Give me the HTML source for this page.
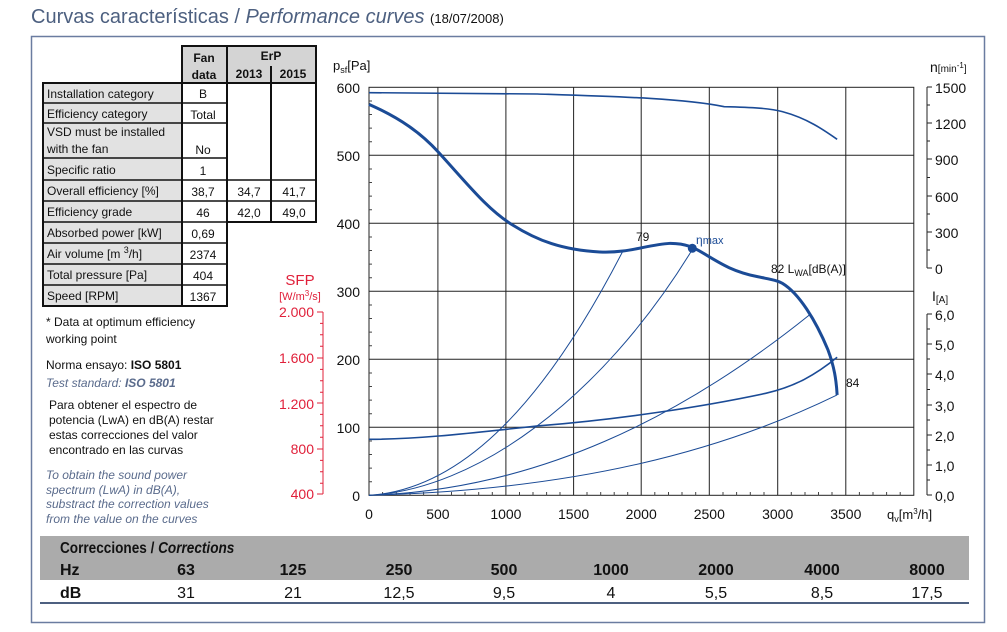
<!DOCTYPE html>
<html><head><meta charset="utf-8"><style>
html,body{margin:0;padding:0;background:#fff;}
svg{display:block;font-family:"Liberation Sans",sans-serif;}
</style></head><body>
<svg width="1007" height="632" viewBox="0 0 1007 632" xmlns="http://www.w3.org/2000/svg">
<rect width="1007" height="632" fill="#fff"/>
<text x="31" y="23" font-size="20" fill="#4d6080">Curvas características / <tspan font-style="italic">Performance curves</tspan> <tspan font-size="13" fill="#111">(18/07/2008)</tspan></text>
<rect x="31.5" y="36.5" width="953" height="586" fill="none" stroke="#6a7ca0" stroke-width="1.5"/>

<!-- left data table -->
<g stroke="#111" stroke-width="2" font-size="12" fill="#111">
<rect x="182" y="46" width="134" height="37" fill="#d4d4d4"/>
<line x1="227" y1="46" x2="227" y2="83"/>
<rect x="43" y="83" width="139" height="223" fill="#e2e2e2"/>
<rect x="182" y="83" width="45" height="223" fill="#fff"/>
<rect x="227" y="83" width="89" height="139" fill="#fff"/>
<line x1="271" y1="66" x2="271" y2="222"/>
<g stroke-width="1.5">
<line x1="43" y1="103" x2="227" y2="103"/><line x1="43" y1="123" x2="227" y2="123"/>
<line x1="43" y1="158" x2="227" y2="158"/><line x1="43" y1="180" x2="316" y2="180"/>
<line x1="43" y1="201" x2="316" y2="201"/><line x1="43" y1="222" x2="316" y2="222"/>
<line x1="43" y1="243" x2="227" y2="243"/><line x1="43" y1="264" x2="227" y2="264"/>
<line x1="43" y1="285" x2="227" y2="285"/>
</g>
</g>
<g font-size="12" fill="#111">
<g font-weight="bold" text-anchor="middle"><text x="204" y="62">Fan</text><text x="204" y="79">data</text><text x="271" y="60">ErP</text><text x="249" y="78">2013</text><text x="293" y="78">2015</text></g>
<text x="47" y="98">Installation category</text>
<text x="47" y="118">Efficiency category</text>
<text x="47" y="136">VSD must be installed</text>
<text x="47" y="153">with the fan</text>
<text x="47" y="174">Specific ratio</text>
<text x="47" y="195">Overall efficiency [%]</text>
<text x="47" y="216">Efficiency grade</text>
<text x="47" y="237">Absorbed power [kW]</text>
<text x="47" y="258">Air volume [m <tspan font-size="9" dy="-5">3</tspan><tspan dy="5">/h]</tspan></text>
<text x="47" y="279">Total pressure [Pa]</text>
<text x="47" y="300">Speed [RPM]</text>
<g text-anchor="middle">
<text x="203" y="98">B</text><text x="203" y="119">Total</text><text x="203" y="154">No</text><text x="203" y="175">1</text>
<text x="203" y="196">38,7</text><text x="249" y="196">34,7</text><text x="294" y="196">41,7</text>
<text x="203" y="217">46</text><text x="249" y="217">42,0</text><text x="294" y="217">49,0</text>
<text x="203" y="238">0,69</text><text x="203" y="259">2374</text><text x="203" y="280">404</text><text x="203" y="301">1367</text>
</g>
<text x="46" y="326">* Data at optimum efficiency</text>
<text x="46" y="343">working point</text>
<text x="46" y="369">Norma ensayo: <tspan font-weight="bold">ISO 5801</tspan></text>
<text x="46" y="387" fill="#5a6b8c" font-style="italic">Test standard: <tspan font-weight="bold">ISO 5801</tspan></text>
<text x="49" y="409">Para obtener el espectro de</text>
<text x="49" y="424">potencia (LwA) en dB(A) restar</text>
<text x="49" y="439">estas correcciones del valor</text>
<text x="49" y="454">encontrado en las curvas</text>
<g fill="#5a6b8c" font-style="italic">
<text x="46" y="479">To obtain the sound power</text>
<text x="46" y="494">spectrum (LwA) in dB(A),</text>
<text x="46" y="508">substract the correction values</text>
<text x="46" y="523">from the value on the curves</text>
</g>
</g>

<!-- SFP axis -->
<g fill="#e0203a" stroke="#e0203a">
<text x="300" y="285" font-size="15" stroke="none" text-anchor="middle">SFP</text>
<text x="300" y="300" font-size="11" stroke="none" text-anchor="middle">[W/m<tspan font-size="8" dy="-4">3</tspan><tspan dy="4">/s]</tspan></text>
<line x1="323" y1="312" x2="323" y2="494"/>
<g stroke-width="1">
<line x1="317" y1="312" x2="323" y2="312"/><line x1="317" y1="358" x2="323" y2="358"/><line x1="317" y1="403" x2="323" y2="403"/><line x1="317" y1="449" x2="323" y2="449"/><line x1="317" y1="494" x2="323" y2="494"/>
<path d="M320,323.4H323M320,334.8H323M320,346.2H323M320,369.4H323M320,380.8H323M320,392.2H323M320,414.4H323M320,425.8H323M320,437.2H323M320,460.4H323M320,471.8H323M320,483.2H323"/>
</g>
<g stroke="none" font-size="14" text-anchor="end">
<text x="314" y="317">2.000</text><text x="314" y="363">1.600</text><text x="314" y="409">1.200</text><text x="314" y="454">800</text><text x="314" y="499">400</text>
</g>
</g>

<!-- grid -->
<g stroke="#222" stroke-width="1">
<rect x="369" y="87.3" width="544.8" height="408" fill="none"/>
<line x1="437.9" y1="87.3" x2="437.9" y2="495.3"/><line x1="505.9" y1="87.3" x2="505.9" y2="495.3"/>
<line x1="573.6" y1="87.3" x2="573.6" y2="495.3"/><line x1="641.2" y1="87.3" x2="641.2" y2="495.3"/>
<line x1="709.3" y1="87.3" x2="709.3" y2="495.3"/><line x1="777.7" y1="87.3" x2="777.7" y2="495.3"/>
<line x1="845.8" y1="87.3" x2="845.8" y2="495.3"/>
<line x1="369" y1="155.3" x2="913.8" y2="155.3"/><line x1="369" y1="223.3" x2="913.8" y2="223.3"/>
<line x1="369" y1="291.3" x2="913.8" y2="291.3"/><line x1="369" y1="359.3" x2="913.8" y2="359.3"/>
<line x1="369" y1="427.3" x2="913.8" y2="427.3"/>
</g>
<!-- minor ticks left/bottom -->
<g stroke="#444" stroke-width="1" id="minor"></g>
<path stroke="#444" stroke-width="1" d="M369,101H372M369,114.5H372M369,128.1H372M369,141.7H372M369,169H372M369,182.5H372M369,196.1H372M369,209.7H372M369,237H372M369,250.5H372M369,264.1H372M369,277.7H372M369,305H372M369,318.5H372M369,332.1H372M369,345.7H372M369,373H372M369,386.5H372M369,400.1H372M369,413.7H372M369,441H372M369,454.5H372M369,468.1H372M369,481.7H372
M382.6,495.3V492M396.3,495.3V492M410,495.3V492M423.6,495.3V492M451.5,495.3V492M465,495.3V492M478.7,495.3V492M492.3,495.3V492M519.5,495.3V492M533,495.3V492M546.6,495.3V492M560,495.3V492M587,495.3V492M600.7,495.3V492M614.2,495.3V492M627.7,495.3V492M654.8,495.3V492M668.5,495.3V492M682,495.3V492M695.7,495.3V492M723,495.3V492M736.6,495.3V492M750.3,495.3V492M764,495.3V492M791.3,495.3V492M805,495.3V492M818.5,495.3V492M832,495.3V492M859.4,495.3V492M873,495.3V492M886.6,495.3V492M900.2,495.3V492"/>
<g font-size="14" fill="#111" text-anchor="end">
<text x="360" y="93">600</text><text x="360" y="161">500</text><text x="360" y="229">400</text><text x="360" y="297">300</text><text x="360" y="365">200</text><text x="360" y="433">100</text><text x="360" y="501">0</text>
</g>
<text x="333" y="70" font-size="13" fill="#111">p<tspan font-size="9" dy="3">sf</tspan><tspan dy="-3">[Pa]</tspan></text>
<g font-size="14" fill="#111" text-anchor="middle">
<text x="369" y="519">0</text><text x="437.9" y="519">500</text><text x="505.9" y="519">1000</text><text x="573.6" y="519">1500</text><text x="641.2" y="519">2000</text><text x="709.3" y="519">2500</text><text x="777.7" y="519">3000</text><text x="845.8" y="519">3500</text>
</g>
<text x="887" y="519" font-size="13" fill="#111">q<tspan font-size="9" dy="3">v</tspan><tspan dy="-3">[m</tspan><tspan font-size="8" dy="-5">3</tspan><tspan dy="5">/h]</tspan></text>

<!-- right axes -->
<g stroke="#222" stroke-width="1">
<line x1="927" y1="87" x2="927" y2="268"/><line x1="927" y1="314" x2="927" y2="495"/>
<line x1="927" y1="87" x2="932" y2="87"/><line x1="927" y1="123" x2="932" y2="123"/><line x1="927" y1="159" x2="932" y2="159"/><line x1="927" y1="196" x2="932" y2="196"/><line x1="927" y1="232" x2="932" y2="232"/><line x1="927" y1="268" x2="932" y2="268"/>
<line x1="927" y1="314" x2="932" y2="314"/><line x1="927" y1="344" x2="932" y2="344"/><line x1="927" y1="374" x2="932" y2="374"/><line x1="927" y1="405" x2="932" y2="405"/><line x1="927" y1="435" x2="932" y2="435"/><line x1="927" y1="465" x2="932" y2="465"/><line x1="927" y1="495" x2="932" y2="495"/>
<path d="M927,105H930M927,141H930M927,177.5H930M927,214H930M927,250H930M927,329H930M927,359H930M927,389.5H930M927,420H930M927,450H930M927,480H930"/>
</g>
<g font-size="14" fill="#111">
<text x="935" y="93">1500</text><text x="935" y="129">1200</text><text x="935" y="165">900</text><text x="935" y="202">600</text><text x="935" y="238">300</text><text x="935" y="274">0</text>
<text x="935" y="320">6,0</text><text x="935" y="350">5,0</text><text x="935" y="380">4,0</text><text x="935" y="411">3,0</text><text x="935" y="441">2,0</text><text x="935" y="471">1,0</text><text x="935" y="501">0,0</text>
<text x="930" y="72">n<tspan font-size="10">[min</tspan><tspan font-size="8" dy="-4">-1</tspan><tspan font-size="10" dy="4">]</tspan></text>
<text x="932" y="301">I<tspan font-size="10" dy="2">[A]</tspan></text>
</g>

<!-- curves (zoom coordinates) -->
<g transform="translate(330,50) scale(0.415,0.3333)" fill="none" stroke="#1b4b96">
<path vector-effect="non-scaling-stroke" stroke-width="3" d="M94,163 C170,205 220,250 260,305 C330,400 380,480 440,525 C500,572 560,600 650,606 C720,610 760,585 820,580 C860,580 880,595 900,610 C940,640 970,665 1030,680 C1060,688 1075,690 1090,700 C1130,730 1170,810 1200,900 C1215,950 1220,990 1222,1035"/>
<path vector-effect="non-scaling-stroke" stroke-width="1.6" d="M94,128 L500,132 C700,140 850,145 950,170 C1020,172 1060,175 1090,185 C1150,205 1190,240 1222,268"/>
<path vector-effect="non-scaling-stroke" stroke-width="1.6" d="M94,1168 C200,1168 300,1155 500,1128 C700,1108 900,1070 1050,1030 C1120,1010 1170,975 1222,922"/>
<g stroke-width="1">
<path vector-effect="non-scaling-stroke" d="M94,1336 C300,1320 500,1100 705,605"/>
<path vector-effect="non-scaling-stroke" d="M94,1336 C350,1320 650,1050 870,605"/>
<path vector-effect="non-scaling-stroke" d="M94,1336 C500,1320 850,1100 1155,795"/>
<path vector-effect="non-scaling-stroke" d="M94,1336 C600,1320 950,1200 1222,1035"/>
</g>
</g>
<circle cx="692.3" cy="248.3" r="4.5" fill="#1b4b96"/>
<g font-size="12" fill="#111">
<text x="636" y="241">79</text>
<text x="696" y="244" fill="#1b4b96">η<tspan font-size="11">max</tspan></text>
<text x="771" y="273">82 L<tspan font-size="9" dy="3">WA</tspan><tspan dy="-3">[dB(A)]</tspan></text>
<text x="846" y="387">84</text>
</g>

<!-- corrections table -->
<rect x="40" y="536" width="929" height="44" fill="#ababab"/>
<line x1="40" y1="603" x2="969" y2="603" stroke="#4d6080" stroke-width="2"/>
<g font-size="16" fill="#111" font-weight="bold">
<text x="60" y="553" transform="translate(60,0) scale(0.85,1) translate(-60,0)">Correcciones / <tspan font-style="italic">Corrections</tspan></text>
<text x="60" y="575">Hz</text>
<text x="60" y="598">dB</text>
<g text-anchor="middle">
<text x="186" y="575">63</text><text x="293" y="575">125</text><text x="399" y="575">250</text><text x="504" y="575">500</text><text x="611" y="575">1000</text><text x="716" y="575">2000</text><text x="822" y="575">4000</text><text x="927" y="575">8000</text>
</g>
</g>
<g font-size="16" fill="#111" text-anchor="middle">
<text x="186" y="598">31</text><text x="293" y="598">21</text><text x="399" y="598">12,5</text><text x="504" y="598">9,5</text><text x="611" y="598">4</text><text x="716" y="598">5,5</text><text x="822" y="598">8,5</text><text x="927" y="598">17,5</text>
</g>
</svg>
</body></html>
